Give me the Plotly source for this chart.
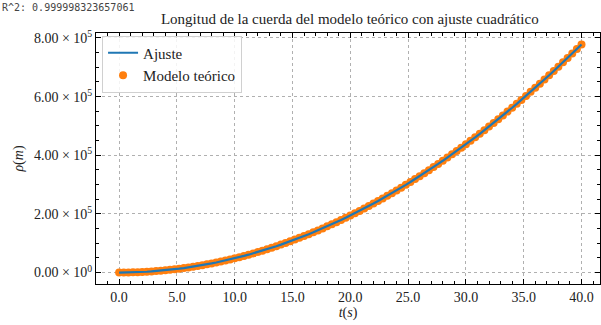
import plotly.graph_objects as go

# tiempo (s) y longitud de la cuerda (m)
t = [
    0.0, 0.4, 0.8, 1.2, 1.6, 2.0, 2.4, 2.8, 3.2, 3.6, 4.0, 4.4, 4.8, 5.2, 5.6,
    6.0, 6.4, 6.8, 7.2, 7.6, 8.0, 8.4, 8.8, 9.2, 9.6, 10.0, 10.4, 10.8, 11.2,
    11.6, 12.0, 12.4, 12.8, 13.2, 13.6, 14.0, 14.4, 14.8, 15.2, 15.6, 16.0,
    16.4, 16.8, 17.2, 17.6, 18.0, 18.4, 18.8, 19.2, 19.6, 20.0, 20.4, 20.8,
    21.2, 21.6, 22.0, 22.4, 22.8, 23.2, 23.6, 24.0, 24.4, 24.8, 25.2, 25.6,
    26.0, 26.4, 26.8, 27.2, 27.6, 28.0, 28.4, 28.8, 29.2, 29.6, 30.0, 30.4,
    30.8, 31.2, 31.6, 32.0, 32.4, 32.8, 33.2, 33.6, 34.0, 34.4, 34.8, 35.2,
    35.6, 36.0, 36.4, 36.8, 37.2, 37.6, 38.0, 38.4, 38.8, 39.2, 39.6, 40.0,
]
rho = [
    0, 78, 311, 700, 1245, 1945, 2801, 3812, 4979, 6302, 7780, 9414, 11203,
    13148, 15249, 17505, 19917, 22484, 25207, 28086, 31120, 34310, 37655,
    41156, 44813, 48625, 52593, 56716, 60995, 65430, 70020, 74766, 79667,
    84724, 89937, 95305, 100829, 106508, 112343, 118334, 124480, 130782,
    137239, 143852, 150621, 157545, 164625, 171860, 179251, 186798, 194500,
    202358, 210371, 218540, 226865, 235345, 243981, 252772, 261719, 270822,
    280080, 289494, 299063, 308788, 318669, 328705, 338897, 349244, 359747,
    370406, 381220, 392190, 403315, 414596, 426033, 437625, 449373, 461276,
    473335, 485550, 497920, 510446, 523127, 535964, 548957, 562105, 575409,
    588868, 602483, 616254, 630180, 644262, 658499, 672892, 687441, 702145,
    717005, 732020, 747191, 762518, 778000,
]

x_ticks = [0, 5, 10, 15, 20, 25, 30, 35, 40]
x_labels = ["0.0", "5.0", "10.0", "15.0", "20.0", "25.0", "30.0", "35.0", "40.0"]
y_ticks = [0, 200000, 400000, 600000, 800000]
y_labels = [
    "0.00 × 10<sup>0</sup>",
    "2.00 × 10<sup>5</sup>",
    "4.00 × 10<sup>5</sup>",
    "6.00 × 10<sup>5</sup>",
    "8.00 × 10<sup>5</sup>",
]

serif = "Times New Roman"

fig = go.Figure()
fig.add_trace(
    go.Scatter(
        x=t, y=rho, mode="markers", name="Modelo teórico",
        marker=dict(color="#ff7f0e", size=8, line=dict(width=0)),
    )
)
fig.add_trace(
    go.Scatter(
        x=t, y=rho, mode="lines", name="Ajuste",
        line=dict(color="#1f77b4", width=2.2),
    )
)

axis_common = dict(
    showline=True, linecolor="black", linewidth=1, mirror="ticks",
    ticks="inside", ticklen=5, tickwidth=1, tickcolor="black",
    showgrid=True, gridcolor="#b0b0b0", griddash="dot", gridwidth=1,
    zeroline=False, automargin=False,
    tickfont=dict(family=serif, size=14, color="#222"),
)

fig.update_xaxes(
    range=[-2, 41.6], tickvals=x_ticks, ticktext=x_labels,
    minor=dict(dtick=1, tick0=0, ticks="inside", ticklen=3, tickcolor="black", showgrid=False),
    title=dict(text="<i>t</i>(<i>s</i>)", font=dict(family=serif, size=14, color="#222"), standoff=2),
    **axis_common,
)
fig.update_yaxes(
    range=[-39000, 817000], tickvals=y_ticks, ticktext=y_labels,
    minor=dict(dtick=50000, tick0=0, ticks="inside", ticklen=3, tickcolor="black", showgrid=False),
    title=dict(text="<i>ρ</i>(<i>m</i>)", font=dict(family=serif, size=14, color="#222"), standoff=6),
    **axis_common,
)

fig.update_layout(
    width=601, height=325,
    margin=dict(l=96, r=1, t=33, b=41),
    paper_bgcolor="white", plot_bgcolor="white",
    font=dict(family=serif),
    title=dict(
        text="Longitud de la cuerda del modelo teórico con ajuste cuadrático",
        font=dict(family=serif, size=15, color="#222"),
        x=0.582, xref="container", xanchor="center",
        y=1 - 19 / 325, yref="container", yanchor="middle",
    ),
    legend=dict(
        x=0.012, y=0.99, xanchor="left", yanchor="top",
        bgcolor="rgba(255,255,255,0.85)", bordercolor="#d0d0d0", borderwidth=1,
        font=dict(family=serif, size=15, color="#222"),
        traceorder="reversed",
    ),
    annotations=[
        dict(
            text="R^2: 0.999998323657061", xref="paper", yref="paper",
            x=-96 / 504, y=284 / 251, xanchor="left", yanchor="top",
            showarrow=False, font=dict(family="DejaVu Sans Mono", size=10, color="#444"),
        )
    ],
    showlegend=True,
)

# the page body has a default 8px margin, drop it so the figure sits at 0,0
fig.write_html(
    "out.html",
    config={"displayModeBar": False},
    post_script="document.body.style.margin='0';",
)
